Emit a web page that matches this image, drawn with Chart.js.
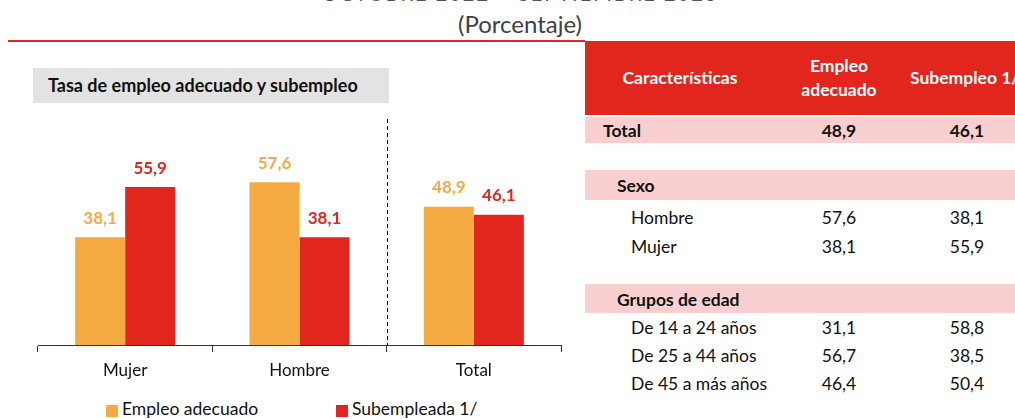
<!DOCTYPE html>
<html>
<head>
<meta charset="utf-8">
<script src="https://cdn.jsdelivr.net/npm/chart.js@4"></script>
<style>
  body { margin: 0; width: 1015px; height: 419px; overflow: hidden; background: #fff;
         font-family: Lato, 'Open Sans', sans-serif; position: relative; color: #111; }
  .abs { position: absolute; white-space: nowrap; }
  #topTitle { left: 0; width: 1040px; text-align: center; top: -19px; font-size: 20px; letter-spacing: 2px; color: #555; line-height: 24px; }
  #subTitle { left: 0; width: 1040px; text-align: center; top: 9px; font-size: 24px; color: #404040; line-height: 29px; }
  #redLine { left: 8px; top: 40px; width: 577px; height: 2px; background: #e1261d; }
  #boxTitle { left: 33px; top: 68px; width: 356px; height: 35px; background: #e3e3e3; }
  #boxTitle span { position: absolute; left: 15px; top: 6px; font-size: 18px; font-weight: bold; color: #111; line-height: 22px; }
  #chartWrap { left: 0; top: 0; width: 584px; height: 419px; }
  .legBox { width: 12px; height: 12px; }
  .legTxt { font-size: 17.5px; color: #111; line-height: 20px; }
  #tblHead { left: 585px; top: 41px; width: 430px; height: 74px; background: #e1261d; color: #fff; font-weight: bold; font-size: 17.5px; }
  .row { left: 585px; width: 430px; font-size: 17.5px; }
  .row span { position: absolute; top: 50%; transform: translateY(-50%); }
  .pink { background: #f9d0cf; }
</style>
</head>
<body>
<div id="topTitle" class="abs">OCTUBRE 2022 – SEPTIEMBRE 2023</div>
<div id="subTitle" class="abs">(Porcentaje)</div>
<div id="redLine" class="abs"></div>
<div id="boxTitle" class="abs"><span>Tasa de empleo adecuado y subempleo</span></div>
<div id="tblHead" class="abs"></div>
<div id="table"></div>
<div id="legend"></div>
<div id="chartWrap" class="abs"><canvas id="myChart" width="584" height="419"></canvas></div>

<script>
// chart data
var categories = ['Mujer', 'Hombre', 'Total'];
var seriesNames = ['Empleo adecuado', 'Subempleada 1/'];
var empleoAdecuado = [38.1, 57.6, 48.9];
var subempleo = [55.9, 38.1, 46.1];
var colors = ['#f5aa42', '#e1261d'];

// table data
var headers = ['Características', 'Empleo<br>adecuado', 'Subempleo 1/'];
var totalValues = [48.9, 46.1];
var sexoLabels = ['Hombre', 'Mujer'];
var sexoAdecuado = [57.6, 38.1];
var sexoSubempleo = [38.1, 55.9];
var edadLabels = ['De 14 a 24 años', 'De 25 a 44 años', 'De 45 a más años'];
var edadAdecuado = [31.1, 56.7, 46.4];
var edadSubempleo = [58.8, 38.5, 50.4];

function fmt(v) {
  return v.toFixed(1).replace('.', ',');
}

// table header
var head = document.getElementById('tblHead');
head.innerHTML =
  '<span class="abs" style="left:0;width:190px;text-align:center;top:26px">' + headers[0] + '</span>' +
  '<span class="abs" style="left:204px;width:100px;text-align:center;top:13px;line-height:24px">' + headers[1] + '</span>' +
  '<span class="abs" style="left:325px;top:26px">' + headers[2] + '</span>';

var tbl = document.getElementById('table');
function addRow(top, h, label, indent, a, b, bold, pink) {
  var d = document.createElement('div');
  d.className = 'abs row' + (pink ? ' pink' : '');
  d.style.top = top + 'px';
  d.style.height = h + 'px';
  if (bold) d.style.fontWeight = 'bold';
  var html = '<span style="left:' + indent + 'px">' + label + '</span>';
  if (a !== null) html += '<span style="left:204px;width:100px;text-align:center">' + fmt(a) + '</span>';
  if (b !== null) html += '<span style="left:332px;width:100px;text-align:center">' + fmt(b) + '</span>';
  d.innerHTML = html;
  tbl.appendChild(d);
}
addRow(117, 26, 'Total', 18, totalValues[0], totalValues[1], true, true);
addRow(170, 30, 'Sexo', 32, null, null, true, true);
for (var i = 0; i < sexoLabels.length; i++) {
  addRow(202 + i * 29, 29, sexoLabels[i], 46, sexoAdecuado[i], sexoSubempleo[i], false, false);
}
addRow(284, 29, 'Grupos de edad', 32, null, null, true, true);
for (var j = 0; j < edadLabels.length; j++) {
  addRow(313 + j * 28, 28, edadLabels[j], 46, edadAdecuado[j], edadSubempleo[j], false, false);
}

// legend
var leg = document.getElementById('legend');
var legX = [106, 336];
for (var k = 0; k < seriesNames.length; k++) {
  leg.innerHTML +=
    '<div class="abs legBox" style="left:' + legX[k] + 'px;top:405px;background:' + colors[k] + '"></div>' +
    '<div class="abs legTxt" style="left:' + (legX[k] + 16) + 'px;top:399px">' + seriesNames[k] + '</div>';
}

// value labels above bars + dashed separator
var barLabels = {
  id: 'barLabels',
  afterDatasetsDraw: function(chart) {
    var ctx = chart.ctx;
    ctx.save();
    ctx.font = 'bold 17px Lato';
    ctx.textAlign = 'center';
    ctx.textBaseline = 'middle';
    chart.data.datasets.forEach(function(ds, di) {
      chart.getDatasetMeta(di).data.forEach(function(bar, bi) {
        ctx.fillStyle = ds.backgroundColor;
        ctx.fillText(fmt(ds.data[bi]), bar.x, bar.y - 19);
      });
    });
    var x = chart.scales.x;
    var sep = (x.getPixelForValue(1) + x.getPixelForValue(2)) / 2;
    ctx.strokeStyle = '#000';
    ctx.lineWidth = 1;
    ctx.setLineDash([4, 3]);
    ctx.beginPath();
    ctx.moveTo(Math.round(sep) + 0.5, chart.chartArea.top);
    ctx.lineTo(Math.round(sep) + 0.5, chart.chartArea.bottom);
    ctx.stroke();
    ctx.restore();
  }
};

new Chart(document.getElementById('myChart').getContext('2d'), {
  type: 'bar',
  data: {
    labels: categories,
    datasets: [
      { label: seriesNames[0], data: empleoAdecuado, backgroundColor: colors[0], categoryPercentage: 0.574, barPercentage: 1 },
      { label: seriesNames[1], data: subempleo, backgroundColor: colors[1], categoryPercentage: 0.574, barPercentage: 1 }
    ]
  },
  options: {
    responsive: false,
    devicePixelRatio: 1,
    animation: false,
    layout: { padding: { left: 38, right: 23, top: 119, bottom: 29 } },
    plugins: { legend: { display: false }, tooltip: { enabled: false } },
    scales: {
      y: { display: false, min: 0, max: 80 },
      x: {
        afterFit: function(scale) { scale.height = 45; },
        grid: { offset: true, drawOnChartArea: false, drawTicks: true, tickLength: 7, color: '#333' },
        border: { display: true, color: '#333', width: 1 },
        ticks: { color: '#111', font: { family: 'Lato', size: 17 }, padding: 8 }
      }
    }
  },
  plugins: [barLabels]
});
</script>
</body>
</html>
